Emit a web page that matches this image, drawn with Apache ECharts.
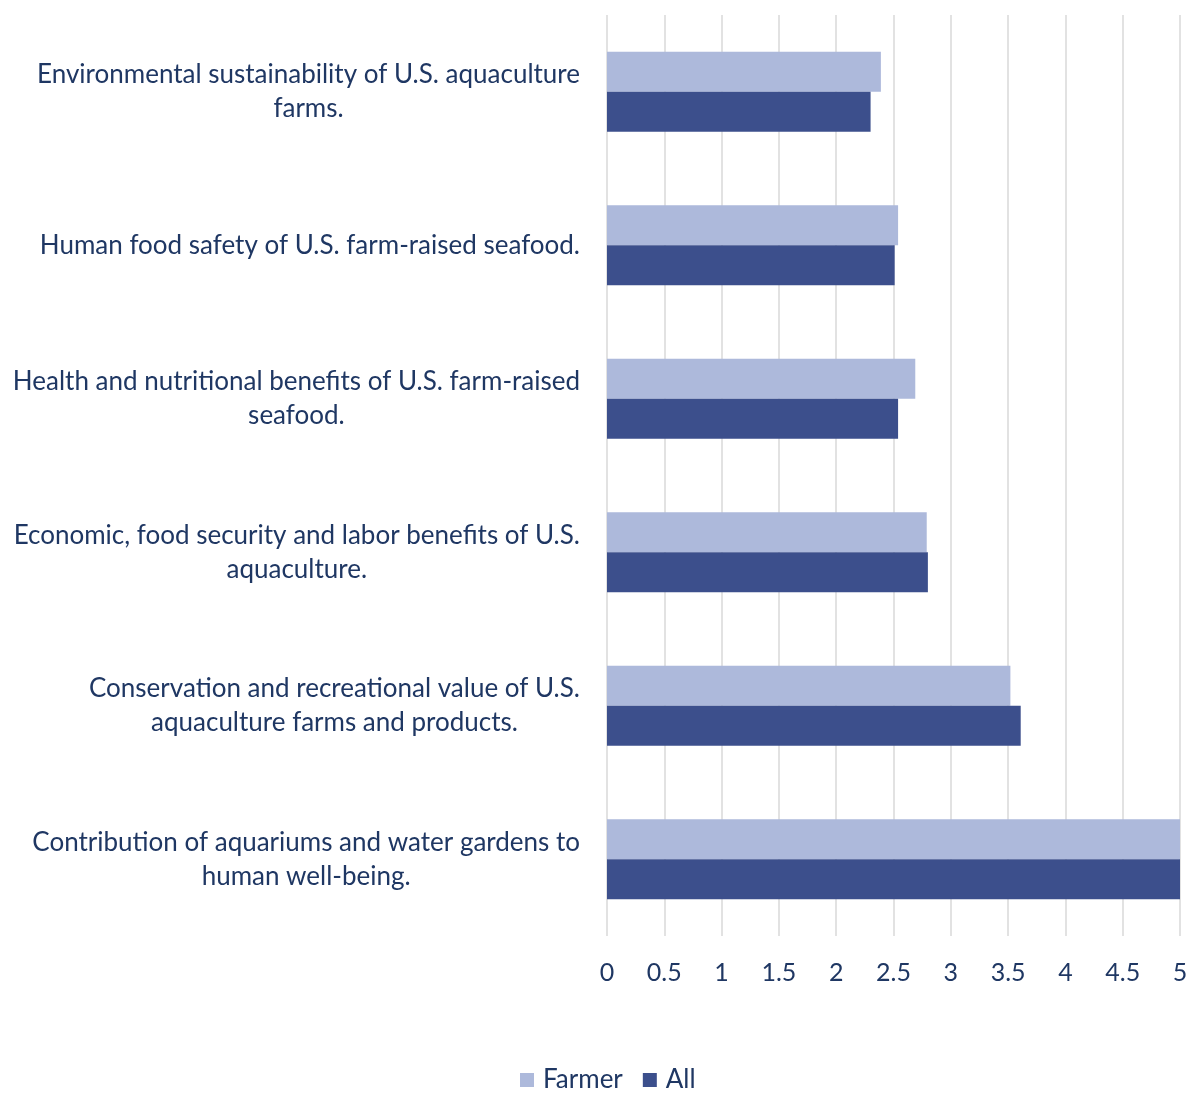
<!DOCTYPE html>
<html>
<head>
<meta charset="utf-8">
<script src="https://cdn.jsdelivr.net/npm/echarts@6/dist/echarts.min.js"></script>
<style>
html, body { margin: 0; padding: 0; background: #fff; }
#chart { width: 1192px; height: 1093px; }
</style>
</head>
<body>
<div id="chart"></div>
<script>
// Survey topics, listed top to bottom
const categories = [
  'Environmental sustainability of U.S. aquaculture\nfarms.',
  'Human food safety of U.S. farm-raised seafood.',
  'Health and nutritional benefits of U.S. farm-raised\nseafood.',
  'Economic, food security and labor benefits of U.S.\naquaculture.',
  'Conservation and recreational value of U.S.\naquaculture farms and products.',
  'Contribution of aquariums and water gardens to\nhuman well-being.'
];
const farmerValues = [2.39, 2.54, 2.69, 2.79, 3.52, 5];
const allValues = [2.30, 2.51, 2.54, 2.80, 3.61, 5];

const textColor = '#1F3763';
const font = 'Lato, "Open Sans", sans-serif';

const chart = echarts.init(document.getElementById('chart'));
chart.setOption({
  animation: false,
  backgroundColor: '#ffffff',
  textStyle: { fontFamily: font },
  grid: { left: 607, right: 12, top: 15, bottom: 157 },
  legend: {
    top: 1062,
    left: 515,
    itemWidth: 14,
    itemHeight: 14,
    itemGap: 20,
    icon: 'rect',
    textStyle: { color: textColor, fontSize: 26, fontFamily: font, padding: [0, 0, 0, 4] },
    data: ['Farmer', 'All']
  },
  xAxis: {
    type: 'value',
    min: 0,
    max: 5,
    interval: 0.5,
    axisLine: { show: false },
    axisTick: { show: false },
    splitLine: { show: true, lineStyle: { color: '#D9D9D9', width: 1.5 } },
    axisLabel: { color: textColor, fontSize: 25, margin: 24, fontFamily: font }
  },
  yAxis: {
    type: 'category',
    inverse: true,
    data: categories,
    axisLine: { show: false },
    axisTick: { show: false },
    axisLabel: {
      color: textColor,
      fontSize: 26,
      lineHeight: 34,
      align: 'right',
      margin: 27,
      fontFamily: font,
      // each line centred inside the right-anchored label block
      formatter: v => v.split('\n').map(l => '{c|' + l + '}').join('\n'),
      rich: {
        c: { align: 'center', color: textColor, fontSize: 26, lineHeight: 34, fontFamily: font }
      }
    }
  },
  series: [
    {
      name: 'Farmer',
      type: 'bar',
      data: farmerValues,
      barWidth: 40,
      barGap: '0%',
      itemStyle: { color: '#ADB9DB' }
    },
    {
      name: 'All',
      type: 'bar',
      data: allValues,
      barWidth: 40,
      barGap: '0%',
      itemStyle: { color: '#3C4F8C' }
    }
  ]
});
</script>
</body>
</html>
